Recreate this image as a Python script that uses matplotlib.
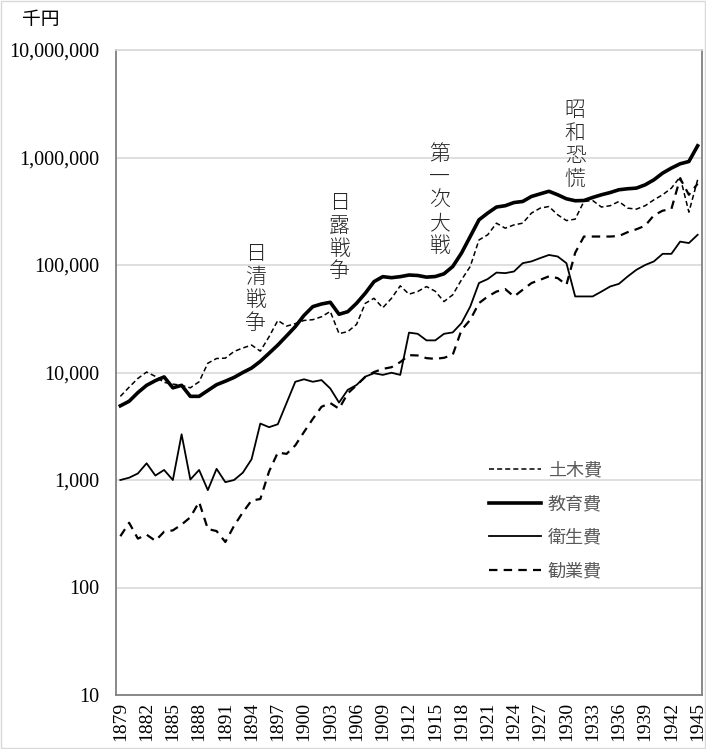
import numpy as np
import matplotlib.pyplot as plt
from matplotlib.ticker import FixedLocator, FuncFormatter, NullLocator
from matplotlib.patches import Rectangle

plt.rcParams['font.family'] = ['Liberation Serif', 'Noto Sans CJK JP']

years = np.arange(1879, 1946)

# 千円, 1879-1945
doboku = [6000, 7300, 8800, 10100, 9200, 8100, 7800, 7600, 7200, 8200,
          12200, 13500, 13600, 15700, 16900, 18000, 15800, 21500, 30500, 27000,
          28500, 30500, 31000, 33000, 37000, 23000, 24000, 28000, 44000, 49000,
          40000, 49000, 64000, 53500, 56700, 63000, 57000, 45700, 52800, 72800,
          96800, 171000, 191000, 245000, 220000, 236000, 245000, 304000, 338000, 350000,
          293000, 259000, 267000, 390000, 398000, 346000, 356000, 390000, 338000, 331000,
          356000, 404000, 450000, 519000, 660000, 310000, 620000]
kyoiku = [4900, 5400, 6500, 7600, 8400, 9100, 7200, 7600, 6000, 6000,
          6800, 7700, 8300, 9000, 10000, 11000, 12700, 15100, 18000, 21900,
          26700, 34000, 41000, 43400, 45000, 34800, 36800, 44000, 54600, 70000,
          77900, 76200, 77900, 80700, 79900, 77100, 78100, 82800, 96800, 129000,
          184000, 263000, 304000, 346000, 356000, 381000, 390000, 434000, 459000, 485000,
          450000, 413000, 396000, 398000, 425000, 450000, 472000, 501000, 512000, 519000,
          557000, 620000, 716000, 797000, 874000, 918000, 1285000]
eisei = [1000, 1050, 1150, 1430, 1100, 1240, 1000, 2660, 1010, 1240,
         805, 1270, 955, 1000, 1170, 1560, 3350, 3100, 3300, 5200,
         8200, 8650, 8200, 8500, 7100, 5250, 6900, 7650, 9150, 9850,
         9500, 9950, 9500, 23500, 22900, 19900, 19900, 22900, 23600, 28800,
         41000, 68000, 74000, 85000, 84000, 87000, 104000, 108000, 116000, 124000,
         120000, 104000, 51000, 51000, 51000, 56600, 63100, 66800, 78200, 90200,
         100000, 108000, 127000, 127000, 165000, 160000, 191000]
kangyo = [300, 400, 285, 310, 272, 330, 340, 385, 450, 625,
          350, 335, 265, 375, 500, 645, 665, 1200, 1800, 1750,
          2100, 2800, 3700, 4800, 5200, 4600, 6400, 7600, 9100, 10100,
          10800, 11200, 12500, 14500, 14400, 13600, 13400, 13700, 14600, 24800,
          30900, 44200, 50900, 56600, 59700, 50900, 58800, 67900, 72800, 78500,
          75500, 65400, 130000, 184000, 184000, 184000, 184000, 186000, 202000, 215000,
          232000, 290000, 320000, 332000, 640000, 450000, 570000]

events = ['日清戦争', '日露戦争', '第一次大戦', '昭和恐慌']
event_years = [1894.4, 1904.0, 1915.5, 1931.0]
event_tops = [160000, 480000, 1.35e6, 3.5e6]

fig = plt.figure(figsize=(7.06, 7.49), dpi=100)
ax = fig.add_axes([116/706, 1 - 695/749, (702 - 116)/706, (695 - 50)/749])

ax.plot(years, doboku, color='black', lw=1.1, dashes=(3.3, 2.0), label='土木費')
ax.plot(years, kyoiku, color='black', lw=2.6, label='教育費')
ax.plot(years, eisei, color='black', lw=1.3, label='衛生費')
ax.plot(years, kangyo, color='black', lw=1.6, dashes=(3.8, 2.8), label='勧業費')

ax.set_yscale('log')
ax.set_ylim(10, 1e7)
ax.set_xlim(1878.5, 1945.5)
ax.yaxis.set_major_locator(FixedLocator([10**k for k in range(1, 8)]))
ax.yaxis.set_minor_locator(NullLocator())
ax.yaxis.set_major_formatter(FuncFormatter(lambda v, p: f'{v:,.0f}'))
ax.set_xticks(years[::3])
ax.set_xticklabels([str(y) for y in years[::3]], rotation=90)
ax.tick_params(length=0, colors='black')
ax.tick_params(axis='y', pad=12, labelsize=14.5)
ax.tick_params(axis='x', pad=5, labelsize=14)
ax.grid(axis='y', color='#d9d9d9', lw=1.2)
ax.set_axisbelow(True)
for side in ['left', 'bottom', 'right']:
    ax.spines[side].set_color('#808080')
    ax.spines[side].set_linewidth(1.3)
ax.spines['top'].set_color('#d9d9d9')
ax.spines['top'].set_linewidth(1.2)

for label, x, top in zip(events, event_years, event_tops):
    ax.text(x, top, '\n'.join(label), ha='center', va='top', fontsize=15,
            family='Noto Sans CJK JP', fontweight='light', linespacing=1.05,
            color='#262626')

fig.text(41/706, 1 - 20/749, '千円', ha='center', va='center', fontsize=13.5,
         family='Noto Sans CJK JP')

leg = ax.legend(loc='upper left', bbox_to_anchor=(480/706, 1 - 452/749),
                bbox_transform=fig.transFigure, frameon=False, handlelength=2.9,
                handletextpad=0.35, labelspacing=0.88, borderpad=0,
                prop={'family': 'Noto Sans CJK JP', 'size': 13})
for t in leg.get_texts():
    t.set_color('#595959')

fig.patches.append(Rectangle((0.002, 0.002), 0.996, 0.996, transform=fig.transFigure,
                             fill=False, edgecolor='#d9d9d9', lw=1))

fig.savefig('out.png', dpi=100)
